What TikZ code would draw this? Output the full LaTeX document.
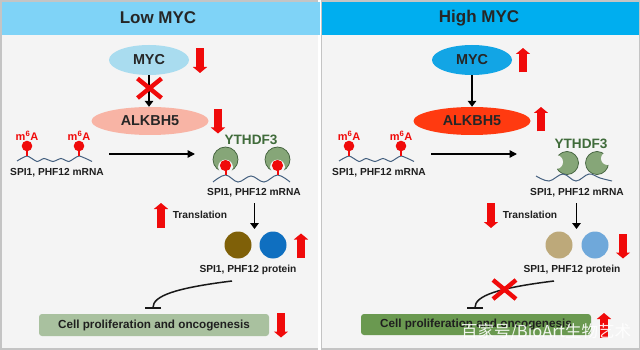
\documentclass[tikz,border=0pt]{standalone}
\usepackage{fontspec}
\setmainfont{Liberation Sans}
\newfontfamily\cjkfont{Noto Sans CJK SC}
\usetikzlibrary{arrows.meta,calc,shapes.geometric}
\definecolor{panelbg}{HTML}{F4F4F4}
\definecolor{edgegray}{HTML}{C4C4C4}
\definecolor{headlow}{HTML}{7FD3F7}
\definecolor{headhigh}{HTML}{00AEEF}
\definecolor{mycred}{HTML}{F00A0A}
\definecolor{wavecol}{HTML}{44607F}
\definecolor{readergreen}{HTML}{86A678}
\definecolor{readeredge}{HTML}{3F5F3A}
\definecolor{ythcol}{HTML}{3F6B3A}
\definecolor{myclow}{HTML}{A9DCEF}
\definecolor{mychigh}{HTML}{12A5E5}
\definecolor{alklow}{HTML}{F8B4A5}
\definecolor{alkhigh}{HTML}{FF3A10}
\definecolor{spilow}{HTML}{7F6008}
\definecolor{phflow}{HTML}{0F6FC0}
\definecolor{spihigh}{HTML}{BDA97A}
\definecolor{phfhigh}{HTML}{6FA8DA}
\definecolor{celllow}{HTML}{A9C19F}
\definecolor{cellhigh}{HTML}{6A9950}
\tikzset{
  lbl/.style={font=\bfseries\fontsize{10.2}{12}\selectfont,text=black!88,inner sep=0pt},
  modlbl/.style={font=\bfseries\fontsize{11}{12}\selectfont,text=mycred,inner sep=0pt},
  ythlbl/.style={font=\bfseries\fontsize{13.6}{15}\selectfont,text=ythcol,inner sep=0pt},
  title/.style={font=\bfseries\fontsize{17}{19}\selectfont,text=black!85,inner sep=0pt},
  blob/.style={circle,minimum size=27pt,inner sep=0pt},
  mycshape/.style={ellipse,minimum width=80pt,minimum height=30pt,inner sep=0pt,font=\bfseries\fontsize{14.4}{16}\selectfont,text=black!85},
  alkshape/.style={ellipse,minimum width=117pt,minimum height=28pt,inner sep=0pt,font=\bfseries\fontsize{14.4}{16}\selectfont,text=black!85},
  cellbar/.style={rounded corners=3pt,minimum width=230pt,inner sep=0pt,font=\bfseries\fontsize{11.7}{13}\selectfont,text=black!88},
  flow/.style={draw=black,line width=1.9pt,-{Triangle[width=8.5pt,length=6pt]}},
  flowlong/.style={draw=black,line width=1.4pt,-{Triangle[width=7.5pt,length=7.5pt]}},
  updown/.style={draw=mycred,line width=7.5pt,-{Triangle[width=14pt,length=6pt]}},
  crossmark/.style={draw=mycred,line width=4.4pt},
  wave/.style={draw=wavecol,line width=1pt},
  inhibit/.style={draw=black!90,line width=1.5pt,-{Bar[width=16pt,line width=1.4pt]}},
  moddot/.style={fill=mycred},
  modstem/.style={draw=mycred,line width=2pt},
  reader/.style={fill=readergreen,draw=readeredge,line width=0.7pt},
}
% mRNA strand with two m6A marks sitting on its two crests
\newcommand{\modstrand}[3]{%
  \draw[wave] plot[smooth,tension=0.35] coordinates {(#1-10,#3+5) (#1,#3) (#1+10,#3+5.5) (#1+17,#3+2.5) (#1+26,#3+5.5) (#1+34,#3+2.5) (#1+42,#3+5.5) (#2,#3) (#2+13,#3+5.5)};
  \draw[modstem] (#1,#3) -- (#1,#3-10);
  \draw[modstem] (#2,#3) -- (#2,#3-10);
  \fill[moddot] (#1,#3-10) circle (5.3);
  \fill[moddot] (#2,#3-10) circle (5.3);
}
% YTHDF3 cap holding an m6A head in its pocket
\newcommand{\boundreader}[2]{%
  \fill[reader] (#1,#2) circle (12.5);
  \fill[panelbg] (#1,#2+7.5) circle (7.4);
  \draw[modstem] (#1,#2+6) -- (#1,#2+16);
  \fill[moddot] (#1,#2+6) circle (5.6);
}
\begin{document}
\begin{tikzpicture}[x=1pt,y=-1pt]
\useasboundingbox (0,0) rectangle (640,350);
\fill[edgegray] (0,0) rectangle (640,350);
\fill[white] (318,0) rectangle (321,350);

% two panels
\fill[panelbg] (1.5,2) rectangle (317.5,347.5);
\fill[panelbg] (321.5,2) rectangle (638.5,347.5);
\fill[headlow] (1.5,2) rectangle (319.5,35.5);
\fill[headhigh] (321.5,2) rectangle (638.5,35.5);
\node[title] (tlow) at (158,18) {Low MYC};
\node[title] (thigh) at (479,18) {High MYC};

%%%% low MYC side
\node[mycshape,fill=myclow] (mycL) at (149,60) {MYC};
\node[alkshape,fill=alklow] (alkL) at (150,121) {ALKBH5};
\draw[flow] (mycL.south) -- (mycL.south |- alkL.north);
\draw[crossmark] (137.5,78.5) -- (161.5,98) (161.5,78.5) -- (137.5,98);
\draw[updown] (200,48.5) -- (200,73);
\draw[updown] (218,109) -- (218,133.5);

\node[modlbl] (maL1) at (27,136) {m\textsuperscript{6}A};
\node[modlbl] (maL2) at (79,136) {m\textsuperscript{6}A};
\modstrand{27}{79}{156}
\node[lbl] (rnaL1) at (57,173) {SPI1, PHF12 mRNA};
\coordinate (gL1) at (109,154);
\coordinate (gL2) at (195,154);
\draw[flowlong] (gL1) -- (gL2);

\node[ythlbl] (ythL) at (251,140) {YTHDF3};
\draw[wave] plot[smooth,tension=0.6] coordinates {(213,182) (225.5,175) (238,182) (251,176) (264,182) (277.5,175) (290,182)};
\boundreader{225.5}{159.5}
\boundreader{277.5}{159.5}
\node[lbl] (rnaL2) at (254,193) {SPI1, PHF12 mRNA};
\node[blob,fill=spilow] (p1L) at (238,245) {};
\node[blob,fill=phflow] (p2L) at (273,245) {};
\coordinate (tcL) at (254.5,229);
\coordinate (tsL) at (254.5,203);
\draw[flow] (tsL) -- (tcL);
\node[lbl] (trL) at (200,215) {Translation};
\draw[updown] (161,228) -- (161,203);
\draw[updown] (301,258) -- (301,233.5);
\node[lbl] (protL) at (248,270) {SPI1, PHF12 protein};

\node[cellbar,fill=celllow,minimum height=22pt] (cellL) at (154,325) {Cell proliferation and oncogenesis};
\coordinate (barL) at (153,308.5);
\coordinate (inhL) at (232,281);
\draw[inhibit] (inhL) .. controls (175,288) and (153,296) .. (barL);
\draw[updown] (281,313) -- (281,337.5);

%%%% high MYC side
\node[mycshape,fill=mychigh] (mycH) at (472,60) {MYC};
\node[alkshape,fill=alkhigh] (alkH) at (472,121) {ALKBH5};
\draw[flow] (mycH.south) -- (mycH.south |- alkH.north);
\draw[updown] (523,72.5) -- (523,48);
\draw[updown] (541,131.5) -- (541,107);

\node[modlbl] (maH1) at (349,136) {m\textsuperscript{6}A};
\node[modlbl] (maH2) at (401,136) {m\textsuperscript{6}A};
\modstrand{349}{401}{156}
\node[lbl] (rnaH1) at (379,173) {SPI1, PHF12 mRNA};
\coordinate (gH1) at (431,154);
\coordinate (gH2) at (517,154);
\draw[flowlong] (gH1) -- (gH2);

\node[ythlbl] (ythH) at (581,144) {YTHDF3};
% released readers, each with an empty pocket
\fill[reader] (567,163) circle (11.5);
\fill[panelbg] (556,162) circle (7);
\fill[reader] (597,163) circle (11.5);
\fill[panelbg] (607.5,158.5) circle (6.5);
\draw[wave] plot[smooth,tension=0.6] coordinates {(536,176) (549,181) (563,174) (576,181) (589,174) (600,178) (612,181)};
\node[lbl] (rnaH2) at (577,193) {SPI1, PHF12 mRNA};
\node[blob,fill=spihigh] (p1H) at (559,245) {};
\node[blob,fill=phfhigh] (p2H) at (595,245) {};
\coordinate (tcH) at (576.5,229);
\coordinate (tsH) at (576.5,203);
\draw[flow] (tsH) -- (tcH);
\node[lbl] (trH) at (530,215) {Translation};
\draw[updown] (491,203) -- (491,228);
\draw[updown] (623,234) -- (623,258.5);
\node[lbl] (protH) at (572,270) {SPI1, PHF12 protein};

\node[cellbar,fill=cellhigh,minimum height=21pt] (cellH) at (476,324.5) {Cell proliferation and oncogenesis};
\coordinate (barH) at (475,308.5);
\coordinate (inhH) at (554,281);
\draw[inhibit] (inhH) .. controls (497,288) and (475,296) .. (barH);
\draw[crossmark] (493,280) -- (516,299) (516,280) -- (493,299);
\draw[updown] (604,337.5) -- (604,313);

% image credit
\node[font=\cjkfont\fontsize{16.5}{18}\selectfont,text=white,inner sep=0pt,opacity=0.9] (credit) at (546,332) {百家号/BioArt生物艺术};
\end{tikzpicture}
\end{document}
